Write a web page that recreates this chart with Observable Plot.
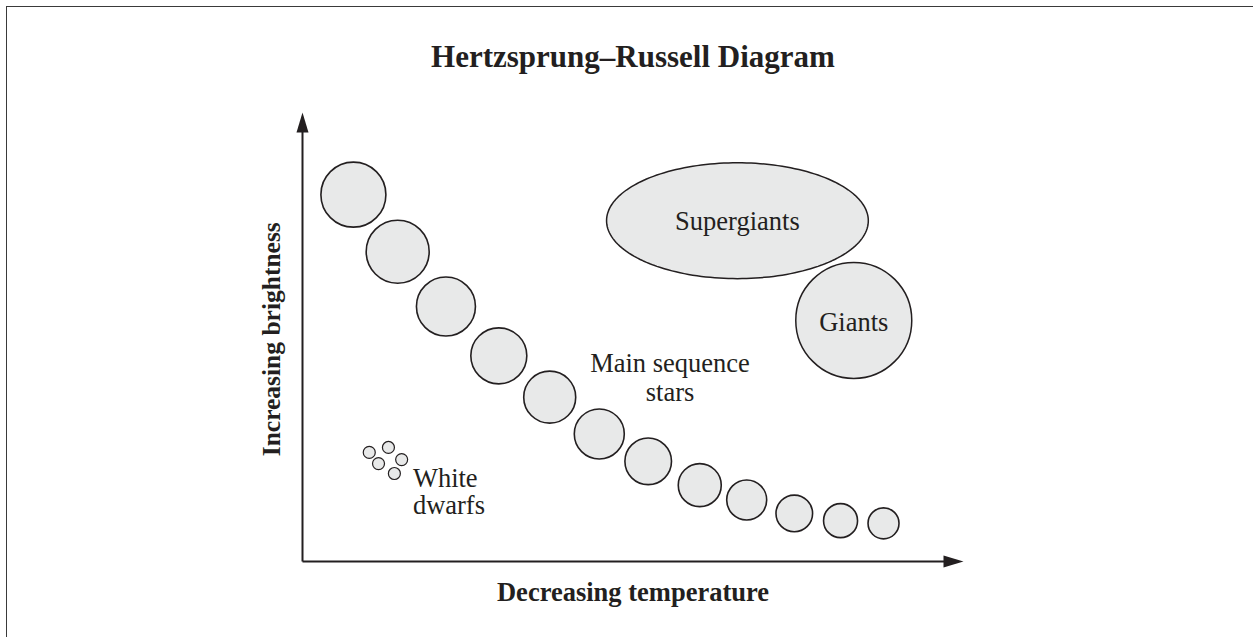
<!DOCTYPE html>
<html><head><meta charset="utf-8">
<script src="https://cdn.jsdelivr.net/npm/d3@7"></script>
<script src="https://cdn.jsdelivr.net/npm/@observablehq/plot@0.6"></script>
<style>
html,body{margin:0;padding:0;background:#fff;}
#wrap{position:relative;width:1253px;height:637px;overflow:hidden;}
#border{position:absolute;left:6px;top:6px;width:1400px;height:800px;border-left:1.5px solid #3a3a3a;border-top:1.5px solid #3a3a3a;}
#chart{position:absolute;left:0;top:0;}
</style></head><body>
<div id="wrap"><div id="border"></div><div id="chart"></div></div>
<script>
// Main sequence stars (temperature index, brightness index, drawn size)
const mainX = [7.7, 14.4, 21.7, 29.7, 37.4, 44.9, 52.3, 60.1, 67.2, 74.4, 81.4, 87.9];
const mainY = [81.7, 69.0, 56.8, 45.8, 36.6, 28.4, 22.3, 17.0, 13.7, 10.7, 9.1, 8.5];
const mainSize = [32.5, 31.5, 29.5, 28, 26, 25, 23.3, 21.5, 20, 18.3, 17, 15.5];

// White dwarfs
const dwarfX = [10.1, 13.0, 11.5, 15.0, 13.9];
const dwarfY = [24.3, 25.4, 21.8, 22.7, 19.6];
const dwarfSize = [6, 6, 6, 6, 6];

// Supergiants region (ellipse) and giants region (circle)
const superCenter = [65.8, 75.9];
const superRadii = [19.8, 12.9];
const giantCenter = [83.4, 53.7];
const giantSize = 58;

// Labels
const titleText = "Hertzsprung–Russell Diagram";
const xLabel = "Decreasing temperature";
const yLabel = "Increasing brightness";
const regionLabels = ["Supergiants", "Giants", "Main sequence\nstars"];
const regionLabelX = [65.8, 83.4, 55.6];
const regionLabelY = [75.9, 53.5, 41.0];
const dwarfLabel = "White\ndwarfs";
const dwarfLabelPos = [16.7, 15.6];

const ink = "#231f20";
const fillGray = "#e8e9e9";

const mainStars = mainX.map((x, i) => ({x, y: mainY[i], r: mainSize[i]}));
const dwarfs = dwarfX.map((x, i) => ({x, y: dwarfY[i], r: dwarfSize[i]}));
const ellipse = d3.range(0, 361, 2).map(a => ({
  x: superCenter[0] + superRadii[0] * Math.cos(a * Math.PI / 180),
  y: superCenter[1] + superRadii[1] * Math.sin(a * Math.PI / 180)
}));
const labels = regionLabels.map((t, i) => ({t, x: regionLabelX[i], y: regionLabelY[i]}));

// narrow filled arrowhead pointing up, tip at origin
const arrowHead = {draw(ctx) { ctx.moveTo(0, 0); ctx.lineTo(6, 20); ctx.lineTo(-6, 20); ctx.closePath(); }};

const chart = Plot.plot({
  width: 1253, height: 637,
  marginTop: 0, marginRight: 0, marginBottom: 0, marginLeft: 0,
  style: {fontFamily: "'Liberation Serif', 'Times New Roman', serif", background: "transparent", color: ink},
  x: {domain: [0, 100], range: [302, 963], axis: null},
  y: {domain: [0, 100], range: [561, 112], axis: null},
  r: {type: "identity"},
  marks: [
    // axes
    Plot.link([{x1: 0, y1: 0, x2: 0, y2: 96}], {x1: "x1", y1: "y1", x2: "x2", y2: "y2", stroke: ink, strokeWidth: 2}),
    Plot.link([{x1: 0, y1: 0, x2: 97.5, y2: 0}], {x1: "x1", y1: "y1", x2: "x2", y2: "y2", stroke: ink, strokeWidth: 2}),
    Plot.dot([{x: 0, y: 100}], {x: "x", y: "y", symbol: arrowHead, fill: ink, stroke: "none"}),
    Plot.dot([{x: 100, y: 0}], {x: "x", y: "y", symbol: arrowHead, rotate: 90, fill: ink, stroke: "none"}),
    // supergiants & giants
    Plot.line(ellipse, {x: "x", y: "y", fill: fillGray, stroke: ink, strokeWidth: 1.5, curve: "linear-closed"}),
    Plot.dot([{x: giantCenter[0], y: giantCenter[1], r: giantSize}], {x: "x", y: "y", r: "r", fill: fillGray, stroke: ink, strokeWidth: 1.5}),
    // main sequence
    Plot.dot(mainStars, {x: "x", y: "y", r: "r", fill: fillGray, stroke: ink, strokeWidth: 1.6}),
    // white dwarfs
    Plot.dot(dwarfs, {x: "x", y: "y", r: "r", fill: fillGray, stroke: ink, strokeWidth: 1.2}),
    // region labels
    Plot.text(labels, {x: "x", y: "y", text: "t", fontSize: 26.5, fill: ink, lineHeight: 1.1}),
    Plot.text([dwarfLabel], {x: dwarfLabelPos[0], y: dwarfLabelPos[1], textAnchor: "start", fontSize: 26.5, fill: ink, lineHeight: 1.03}),
    // title and axis labels
    Plot.text([titleText], {frameAnchor: "top", dx: 6, dy: 57, fontSize: 31, fontWeight: "bold", fill: ink, lineAnchor: "middle"}),
    Plot.text([xLabel], {x: 50, frameAnchor: "bottom", dy: -45, fontSize: 26.5, fontWeight: "bold", fill: ink, lineAnchor: "middle"}),
    Plot.text([yLabel], {y: 49.5, frameAnchor: "left", dx: 271, rotate: -90, textAnchor: "middle", fontSize: 25.5, fontWeight: "bold", fill: ink, lineAnchor: "middle"})
  ]
});
document.getElementById("chart").appendChild(chart);
</script>
</body></html>
